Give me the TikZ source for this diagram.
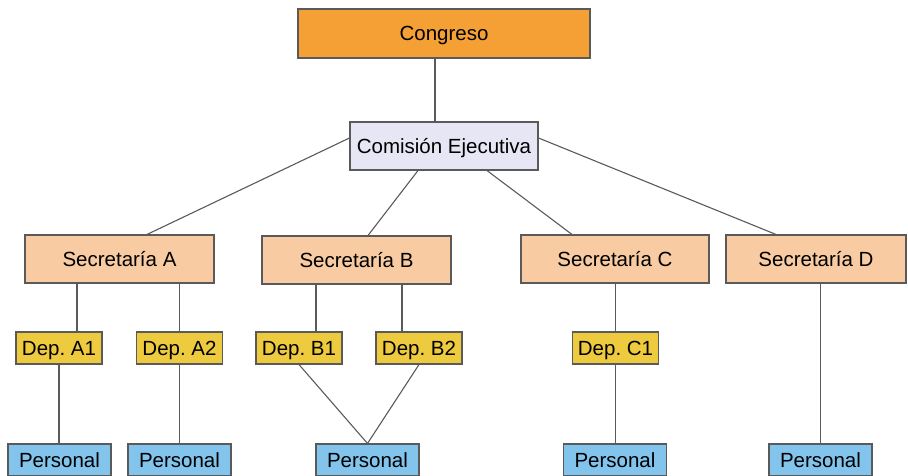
\documentclass[tikz,border=0pt]{standalone}
\usepackage{fontspec}
\setmainfont{Liberation Sans}
\definecolor{cCong}{RGB}{245,160,52}
\definecolor{cCom}{RGB}{230,230,245}
\definecolor{cSec}{RGB}{248,203,162}
\definecolor{cDep}{RGB}{238,203,62}
\definecolor{cPer}{RGB}{130,196,236}
\definecolor{cEdge}{RGB}{90,90,90}
\begin{document}
\frenchspacing
\begin{tikzpicture}[x=1pt,y=-1pt,
  box/.style={draw=cEdge, line width=1.1pt, inner sep=0pt,
    text height=14.7pt, text depth=0pt,
    font=\fontsize{20.5}{24}\selectfont},
  link/.style={draw=cEdge, line width=1.1pt},
  congbox/.style={box, fill=cCong, minimum width=292pt, minimum height=49pt},
  combox/.style={box, fill=cCom, minimum width=188pt, minimum height=48pt},
  secbox/.style={box, fill=cSec, minimum height=48pt},
  depbox/.style={box, fill=cDep, minimum width=86pt, minimum height=32pt},
  perbox/.style={box, fill=cPer, minimum width=103pt, minimum height=32pt}]
\useasboundingbox (0,0) rectangle (908,475);
\fill[white] (0,0) rectangle (908,475);

% top levels
\node[congbox] (cong) at (444,33.5) {Congreso};
\node[combox]  (com)  at (444,146) {Comisión Ejecutiva};

% secretarías
\node[secbox, minimum width=189pt] (secA) at (119.5,259) {Secretaría A};
\node[secbox, minimum width=189pt] (secB) at (356.5,260) {Secretaría B};
\node[secbox, minimum width=188pt] (secC) at (615,259) {Secretaría C};
\node[secbox, minimum width=180pt] (secD) at (816,259) {Secretaría D};

% departamentos
\node[depbox] (depA1) at (59,348) {Dep. A1};
\node[depbox] (depA2) at (179.5,348) {Dep. A2};
\node[depbox] (depB1) at (299,348) {Dep. B1};
\node[depbox] (depB2) at (419,348) {Dep. B2};
\node[depbox] (depC1) at (615.5,348) {Dep. C1};

% personal
\node[perbox] (perA1) at (59.5,460) {Personal};
\node[perbox] (perA2) at (179.5,460) {Personal};
\node[perbox] (perB)  at (367.5,460) {Personal};
\node[perbox] (perC)  at (615,460) {Personal};
\node[perbox] (perD)  at (820.5,460) {Personal};

% connectors
\draw[link] ([xshift=-9pt]cong.south) -- ([xshift=-9pt]com.north);
\draw[link] ([yshift=8pt]com.west) -- ([xshift=27.5pt]secA.north);
\draw[link] ([xshift=-26pt]com.south) -- ([xshift=11.5pt]secB.north);
\draw[link] ([xshift=43pt]com.south) -- ([xshift=-43pt]secC.north);
\draw[link] ([yshift=8pt]com.east) -- ([xshift=-40pt]secD.north);

\draw[link] ([xshift=18pt]depA1.north) -- ([xshift=18pt]depA1.north |- secA.south);
\draw[link] (depA2.north) -- (depA2.north |- secA.south);
\draw[link] ([xshift=17pt]depB1.north) -- ([xshift=17pt]depB1.north |- secB.south);
\draw[link] ([xshift=-17pt]depB2.north) -- ([xshift=-17pt]depB2.north |- secB.south);
\draw[link] (depC1.north) -- (depC1.north |- secC.south);

\draw[link] (depA1.south) -- (depA1.south |- perA1.north);
\draw[link] (depA2.south) -- (depA2.south |- perA2.north);
\draw[link] (depB1.south) -- (perB.north);
\draw[link] (depB2.south) -- (perB.north);
\draw[link] (depC1.south) -- (depC1.south |- perC.north);
\draw[link] (perD.north) -- (perD.north |- secD.south);
\end{tikzpicture}
\end{document}
